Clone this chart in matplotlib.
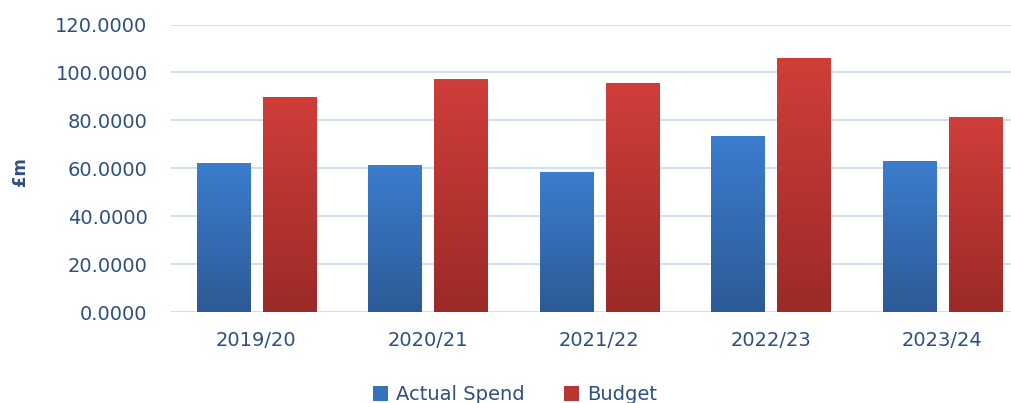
import matplotlib
matplotlib.use("Agg")
import matplotlib.pyplot as plt
import numpy as np
from matplotlib.colors import LinearSegmentedColormap
from matplotlib.patches import Patch
from matplotlib.ticker import FuncFormatter

# values (£m)
years = ["2019/20", "2020/21", "2021/22", "2022/23", "2023/24"]
actual_spend = [62.2, 61.3, 58.3, 73.6, 63.2]
budget = [89.7, 97.4, 95.4, 106.0, 81.3]

text_col = "#2f4f80"
grid_col = "#cddcf2"
blue_cmap = LinearSegmentedColormap.from_list("blue", ["#2d5a96", "#3b7dce"])
red_cmap = LinearSegmentedColormap.from_list("red", ["#9b2a28", "#d03e39"])

fig = plt.figure(figsize=(10.11, 4.03), dpi=100)
# axes area in figure fractions (plot spans 170px..1011px, y 0 at 312px, 120 at 24.5px)
ax = fig.add_axes([170.5 / 1011, 91 / 403, (1011 - 170.5) / 1011, (312 - 24.5) / 403])

x = np.arange(len(years))
width = 0.31
offset = 0.192

grad = np.linspace(0, 1, 256).reshape(-1, 1)

def gradient_bars(xpos, heights, cmap):
    bars = ax.bar(xpos, heights, width, color="none", edgecolor="none", zorder=3)
    for bar in bars:
        x0, y0 = bar.get_x(), bar.get_y()
        im = ax.imshow(grad, extent=[x0, x0 + bar.get_width(), y0, y0 + bar.get_height()],
                       origin="lower", aspect="auto", cmap=cmap, zorder=3)
        im.set_clip_path(bar)
    return bars

gradient_bars(x - offset, actual_spend, blue_cmap)
gradient_bars(x + offset, budget, red_cmap)

ax.set_xlim(-0.5, 4.4)
ax.set_ylim(0, 120)
ax.set_yticks(np.arange(0, 121, 20))
ax.yaxis.set_major_formatter(FuncFormatter(lambda v, p: f"{v:.4f}"))
ax.set_xticks(x)
ax.set_xticklabels(years)

ax.grid(axis="y", color=grid_col, linewidth=1.3, zorder=0)
ax.set_axisbelow(True)
for s in ax.spines.values():
    s.set_visible(False)
ax.tick_params(axis="both", length=0, colors=text_col, labelsize=14)
ax.tick_params(axis="y", pad=16.5)
ax.tick_params(axis="x", pad=14)

fig.text(20 / 1011, 1 - 172 / 403, "£m", rotation=90, ha="center", va="center",
         color=text_col, fontsize=12, fontweight="bold")

handles = [Patch(facecolor="#3672bb"), Patch(facecolor="#b83532")]
fig.legend(handles, ["Actual Spend", "Budget"], loc="center",
           bbox_to_anchor=(515 / 1011, 8 / 403), ncol=2, frameon=False,
           fontsize=14, handlelength=0.8, handleheight=0.8, handletextpad=0.4,
           columnspacing=2.0, labelcolor=text_col)

fig.savefig("out.png", dpi=100)
